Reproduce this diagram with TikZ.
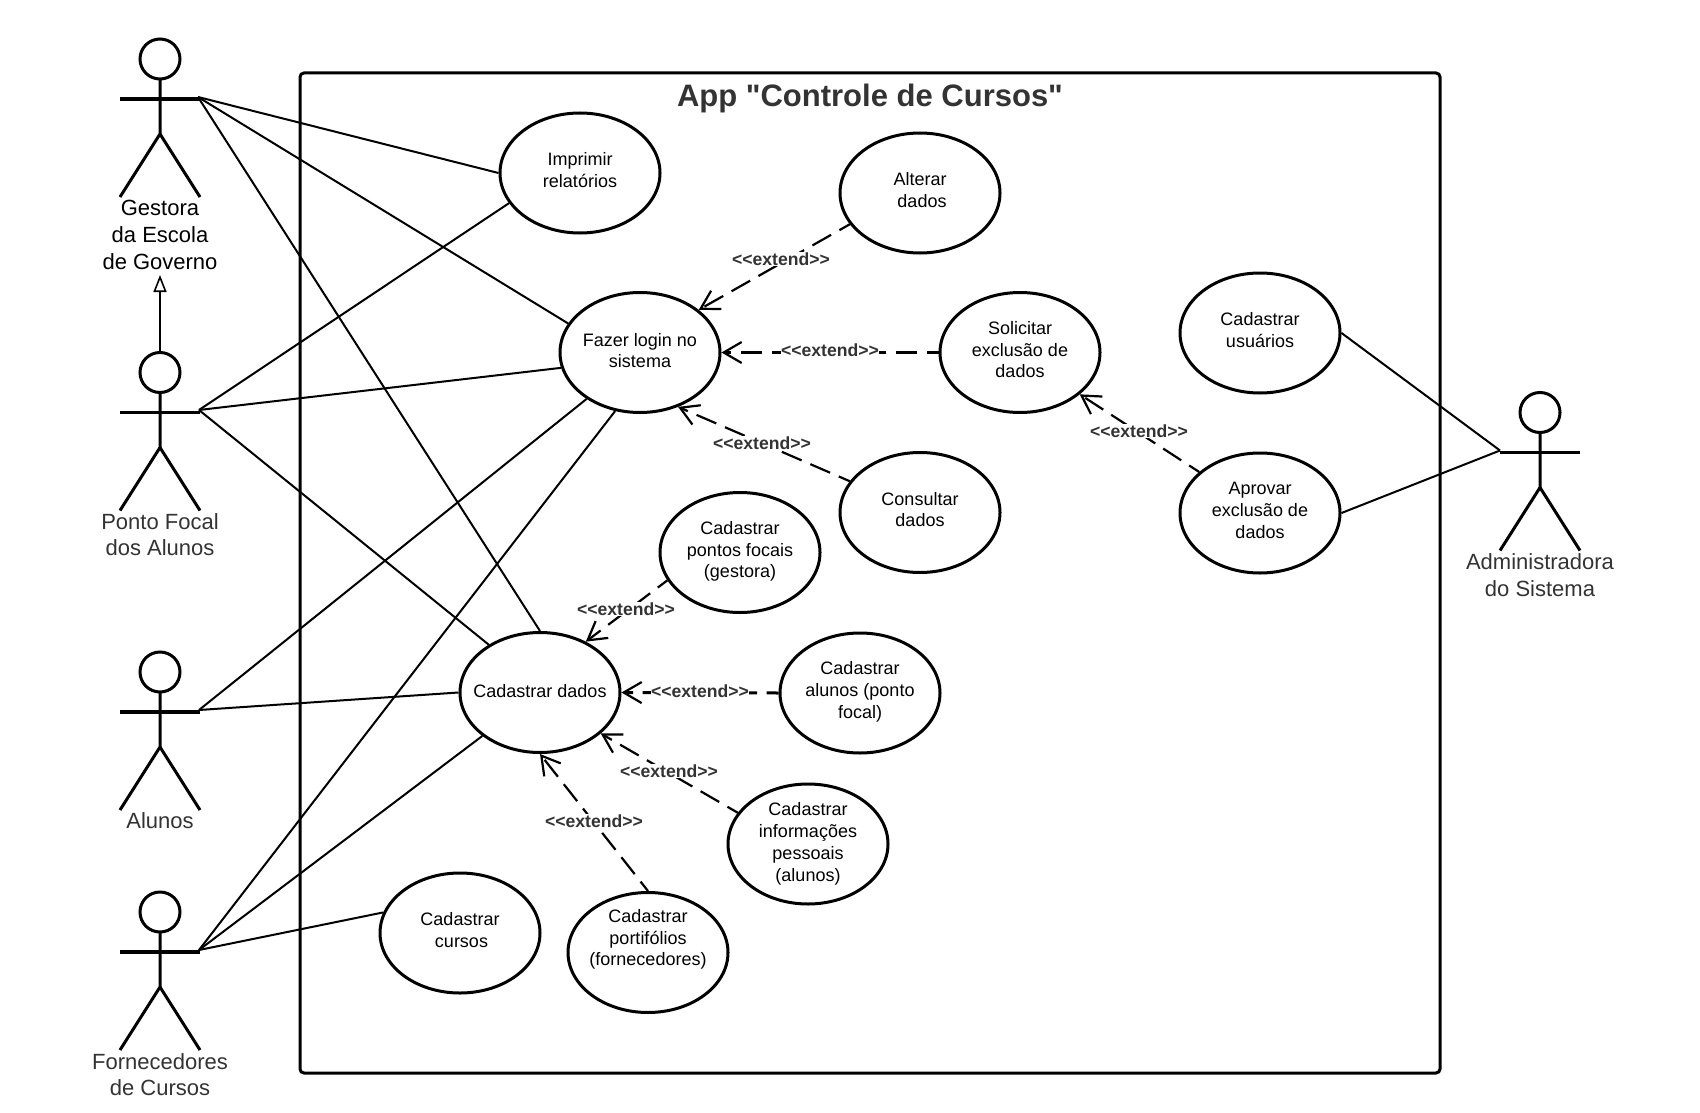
\documentclass[tikz,border=0pt]{standalone}
\usepackage{fontspec}
\setmainfont{Liberation Sans}
\newfontfamily\plainquotefont{Liberation Sans}
\usetikzlibrary{arrows.meta,shapes.geometric}
\definecolor{labgray}{HTML}{333333}
\newcommand{\ucrelay}[2][3]{\makebox[0pt]{\raisebox{\dimexpr#1pt-6.5pt\relax}[0pt][0pt]{\begin{tabular}{@{}c@{}}#2\end{tabular}}}}
\tikzset{
  ucase/.style={draw=black,fill=white,ellipse,line width=3pt,minimum width=160pt,minimum height=120pt,inner sep=0pt,font=\fontsize{18}{21.7}\selectfont},
  acthead/.style={draw=black,fill=white,ellipse,line width=3pt,minimum width=40pt,minimum height=40pt,inner sep=0pt},
  actlimb/.style={line width=3pt},
  actarm/.style={line width=3.6pt},
  actname/.style={align=center,inner sep=0pt,text=labgray,font=\fontsize{22}{26.7}\selectfont},
  assoc/.style={line width=2pt,black},
  extarrow/.style={line width=2.2pt,black,dash pattern=on 21.5pt off 9.5pt,dash phase=9.5pt,-{Straight Barb[length=18pt,width=21pt,line width=2.2pt]}},
  extlabel/.style={fill=white,inner sep=0.5pt,text=labgray,font=\fontsize{17.6}{20}\selectfont\bfseries},
  sysbox/.style={draw=black,line width=3pt,rounded corners=4pt},
  genarrow/.style={line width=1.6pt,black,-{Triangle[open,length=17pt,width=13pt,line width=1.6pt,fill=white]}}
}
\newcommand{\umactor}[3]{%
  \node[acthead] (#1) at (#2,#3) {};
  \begin{scope}[shift={(#2,#3)}]
    \draw[actlimb] (0,20) -- (0,75) -- (-40,138);
    \draw[actlimb] (0,75) -- (40,138);
    \draw[actarm] (-40,40) -- (40,40);
  \end{scope}
}
\begin{document}
\begin{tikzpicture}[x=1pt,y=-1pt]
\useasboundingbox (0,0) rectangle (1700,1113);
\fill[white] (0,0) rectangle (1700,1113);

\draw[sysbox] (300,73) rectangle (1440,1073);
\node[inner sep=0pt,text=labgray,font=\fontsize{31}{36}\selectfont\plainquotefont\bfseries] (title) at (870,98) {App "Controle de Cursos"};

% actors
\umactor{gest}{160}{59}
\umactor{ponto}{160}{372.5}
\umactor{alun}{160}{672}
\umactor{forn}{160}{912}
\umactor{adm}{1540}{412.5}
\coordinate (gesth) at (198,97);
\coordinate (ponth) at (199,410);
\coordinate (alunh) at (199,710);
\coordinate (fornh) at (199,950);
\coordinate (admh) at (1500,450.5);
\node[actname,text=black] (gestn) at (160,235) {Gestora\\da Escola\\de Governo};
\node[actname] (pontn) at (160,534.5) {Ponto Focal\\dos Alunos};
\node[actname] (alunn) at (160,821) {Alunos};
\node[actname] (fornn) at (160,1074.5) {Fornecedores\\de Cursos};
\node[actname] (admn) at (1540,575) {Administradora\\do Sistema};
\coordinate (genend) at (160,275);
\draw[genarrow] (ponto.north) -- (genend);

% use cases
\node[ucase] (imp) at (580,173) {\ucrelay{Imprimir\\relatórios}};
\node[ucase] (alt) at (920,193) {\ucrelay{Alterar\\\hspace{4pt}dados}};
\node[ucase] (faz) at (640,352.5) {\ucrelay[2]{Fazer login no\\sistema}};
\node[ucase] (sol) at (1020,352.5) {\ucrelay{Solicitar\\exclusão de\\dados}};
\node[ucase] (usu) at (1260,333) {\ucrelay{Cadastrar\\usuários}};
\node[ucase] (apr) at (1260,513) {\ucrelay{Aprovar\\exclusão de\\dados}};
\node[ucase] (con) at (920,512.5) {\ucrelay{Consultar\\dados}};
\node[ucase] (pon) at (740,552.5) {\ucrelay{Cadastrar\\pontos focais\\(gestora)}};
\node[ucase] (dad) at (540,692.5) {\ucrelay[2]{Cadastrar dados}};
\node[ucase] (alu) at (860,693) {\ucrelay{Cadastrar\\alunos (ponto\\focal)}};
\node[ucase] (inf) at (808,844) {\ucrelay[2]{Cadastrar\\informações\\pessoais\\(alunos)}};
\node[ucase] (por) at (648,952.5) {\ucrelay[15]{Cadastrar\\portifólios\\(fornecedores)}};
\node[ucase] (cur) at (460,933) {\ucrelay{Cadastrar\\\hspace{3pt}cursos}};

% associations
\draw[assoc] (gesth) -- (imp.west);
\draw[assoc] (gesth) -- (faz.158);
\draw[assoc] (gesth) -- (dad.north);
\draw[assoc] (ponth) -- (imp.203);
\draw[assoc] (ponth) -- (faz.191.5);
\draw[assoc] (ponth) -- (dad.137);
\draw[assoc] (alunh) -- (faz.221);
\draw[assoc] (alunh) -- (dad.west);
\draw[assoc] (fornh) -- (faz.247);
\draw[assoc] (fornh) -- (dad.217);
\draw[assoc] (fornh) -- (cur.165);
\draw[assoc] (admh) -- (usu.east);
\draw[assoc] (admh) -- (apr.east);

% extends
\draw[extarrow] (alt.204.5) -- (faz.36.5);
\draw[extarrow,line width=3pt] (sol.west) -- (faz.east);
\draw[extarrow] (con.156.8) -- (faz.305);
\draw[extarrow] (apr.146.7) -- (sol.325.7);
\draw[extarrow] (pon.201.6) -- (dad.48.2);
\draw[extarrow,line width=3pt] (alu.west) -- (dad.east);
\draw[extarrow] (inf.156.3) -- (dad.326.5);
\draw[extarrow] (por.north) -- (dad.south);
\node[extlabel] (l1) at (781,259) {<{}<extend>{}>};
\node[extlabel] (l2) at (830,350) {<{}<extend>{}>};
\node[extlabel] (l3) at (762,443) {<{}<extend>{}>};
\node[extlabel] (l4) at (1139,431) {<{}<extend>{}>};
\node[extlabel] (l5) at (626,609) {<{}<extend>{}>};
\node[extlabel] (l6) at (700,691) {<{}<extend>{}>};
\node[extlabel] (l7) at (669,771) {<{}<extend>{}>};
\node[extlabel] (l8) at (594,821) {<{}<extend>{}>};
\end{tikzpicture}
\end{document}
